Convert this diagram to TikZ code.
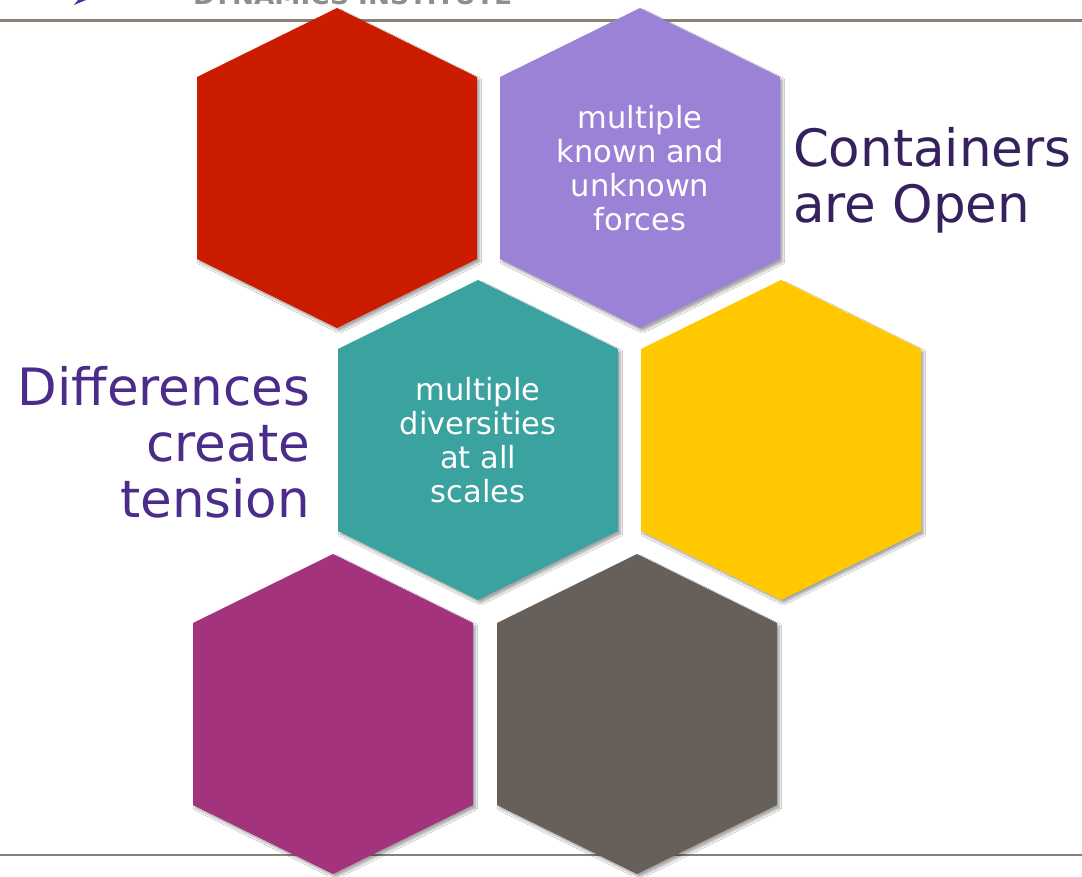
\documentclass[tikz,border=0pt]{standalone}
\usepackage{fontspec}
\setmainfont{DejaVu Sans}
\usetikzlibrary{shadows.blur}
\definecolor{hexred}{HTML}{CC1C00}
\definecolor{hexpurple}{HTML}{9B82D7}
\definecolor{hexteal}{HTML}{3AA29F}
\definecolor{hexyellow}{HTML}{FFC800}
\definecolor{hexmagenta}{HTML}{A4337D}
\definecolor{hexgray}{HTML}{675F59}
\definecolor{rulecol}{HTML}{8A8078}
\definecolor{bigA}{HTML}{36215F}
\definecolor{bigB}{HTML}{4B2C8A}
\definecolor{headgray}{HTML}{8E8E8E}
\definecolor{logocol}{HTML}{4B2C9A}
\tikzset{
  hexfill/.style={draw=none,
    blur shadow={shadow xshift=2.5pt, shadow yshift=-3pt, shadow blur steps=6, shadow opacity=35}},
  hextext/.style={inner sep=0pt, outer sep=0pt, text=white, align=center,
    font=\fontsize{30.5}{34}\selectfont},
  bigtext/.style={inner sep=0pt, outer sep=0pt, font=\fontsize{51.5}{56}\selectfont},
  rulecolline/.style={draw=rulecol, line width=2.6pt}
}
\newcommand\hexpath{++(0,-160) -- ++(140,69) -- ++(0,182) -- ++(-140,69) -- ++(-140,-69) -- ++(0,-182) -- cycle}
\begin{document}
\begin{tikzpicture}[x=1pt,y=-1pt]
\useasboundingbox (0,0) rectangle (1082,876);
\clip (0,0) rectangle (1082,876);
\fill[white] (0,0) rectangle (1082,876);
% header remnants
\node[inner sep=0pt, outer sep=0pt, anchor=south west, text=headgray] (head) at (193,4.5)
  {\resizebox{319pt}{18pt}{\bfseries DYNAMICS INSTITUTE}};
\fill[logocol] (74,5) -- (86,0) -- (78,0) -- cycle;
% rules
\coordinate (rtl) at (0,20.5);
\coordinate (rtr) at (1082,20.5);
\coordinate (rbl) at (0,855);
\coordinate (rbr) at (1082,855);
\draw[rulecolline] (rtl) -- (rtr);
\draw[rulecolline] (rbl) -- (rbr);
% hexagon centres
\coordinate (red) at (337,168);
\coordinate (purple) at (640,168);
\coordinate (teal) at (478,440);
\coordinate (yellow) at (781,440);
\coordinate (magenta) at (333,714);
\coordinate (gray) at (637,714);
% hexagons
\fill[hexfill, hexred] (red) \hexpath;
\fill[hexfill, hexpurple] (purple) \hexpath;
\fill[hexfill, hexteal] (teal) \hexpath;
\fill[hexfill, hexyellow] (yellow) \hexpath;
\fill[hexfill, hexmagenta] (magenta) \hexpath;
\fill[hexfill, hexgray] (gray) \hexpath;
% hexagon texts
\node[hextext] (purpletext) at (purple) {multiple\\known and\\unknown\\forces};
\node[hextext] (tealtext) at (teal) {multiple\\diversities\\at all\\scales};
% big labels
\node[bigtext, text=bigA, anchor=base west, align=left] (open) at (793,222)
  {Containers\\are Open};
\node[bigtext, text=bigB, anchor=base east, align=right] (tension) at (310,517)
  {Differences\\create\\tension};
\end{tikzpicture}
\end{document}
